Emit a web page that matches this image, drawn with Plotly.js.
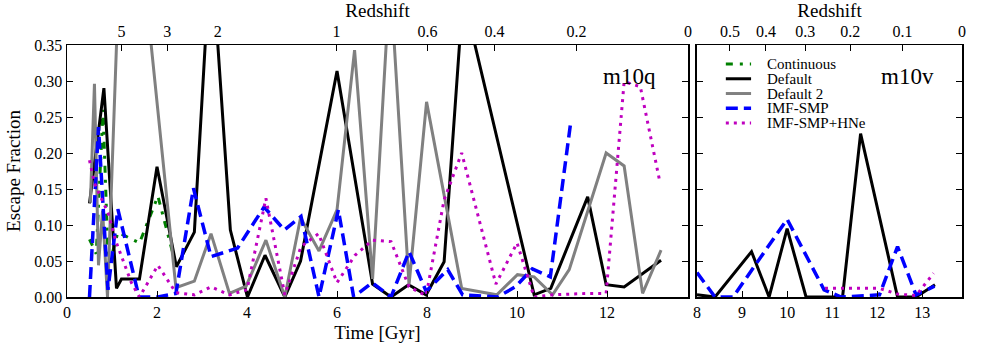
<!DOCTYPE html>
<html>
<head>
<meta charset="utf-8">
<script src="https://cdn.plot.ly/plotly-3.0.1.min.js"></script>
<style>
  body { margin: 0; background: white; }
  #chart { width: 981px; height: 350px; }
</style>
</head>
<body>
<div id="chart"></div>
<script>
// escape fraction vs cosmic time
// m10q (left panel)
var contTime = [0.5, 0.65, 0.8, 0.92, 1.13, 1.61, 2.02, 2.43];
var contEsc  = [0.08, 0.06, 0.26, 0.04, 0.09, 0.075, 0.14, 0.042];

var defTime = [0.5, 0.82, 1.1, 1.21, 1.61, 2.0, 2.43, 2.83, 3.2, 3.63, 4.01, 4.4, 4.84, 5.19, 6.0, 6.79, 7.2, 7.59, 7.98, 8.38, 8.8, 10.38, 10.75, 11.57, 11.98, 12.38, 13.2];
var defEsc  = [0.13, 0.29, 0.012, 0.025, 0.025, 0.181, 0.042, 0.09, 0.49, 0.093, 0.0, 0.058, 0.0, 0.05, 0.314, 0.018, 0.0, 0.017, 0.003, 0.049, 0.42, 0.003, 0.012, 0.139, 0.017, 0.014, 0.051];

var def2Time = [0.52, 0.61, 0.70, 0.79, 0.9, 1.3, 2.42, 2.83, 3.2, 3.61, 3.98, 4.42, 4.84, 5.19, 5.6, 6.0, 6.39, 6.79, 7.18, 7.6, 7.99, 8.77, 9.55, 10.01, 10.38, 10.79, 11.16, 11.98, 12.38, 12.79, 13.2];
var def2Esc  = [0.131, 0.296, 0.044, 0.12, 0.0, 0.70, 0.013, 0.022, 0.088, 0.005, 0.015, 0.079, 0.0, 0.11, 0.064, 0.121, 0.343, 0.025, 0.445, 0.017, 0.271, 0.012, 0.003, 0.031, 0.028, 0.003, 0.038, 0.2, 0.182, 0.005, 0.065];

var smpTime = [0.5, 0.7, 0.91, 1.13, 1.6, 2.02, 2.42, 2.81, 3.2, 3.79, 4.38, 4.83, 5.2, 5.6, 6.03, 6.37, 6.78, 7.2, 7.6, 7.98, 8.46, 8.79, 9.57, 9.96, 10.34, 10.74, 11.2];
var smpEsc  = [0.0, 0.236, 0.01, 0.122, 0.0, 0.0, 0.005, 0.151, 0.056, 0.068, 0.125, 0.093, 0.112, 0.0, 0.121, 0.0, 0.02, 0.0, 0.063, 0.008, 0.038, 0.003, 0.0, 0.014, 0.039, 0.028, 0.246];

var hneTime = [0.5, 0.61, 0.91, 1.1, 1.43, 1.61, 2.02, 2.42, 2.83, 3.2, 3.61, 4.0, 4.42, 4.84, 5.2, 5.59, 6.0, 6.4, 6.79, 7.2, 7.6, 7.98, 8.38, 8.77, 9.53, 10.0, 10.38, 10.79, 11.18, 11.57, 11.98, 12.38, 12.74, 13.18];
var hneEsc  = [0.19, 0.158, 0.117, 0.075, 0.02, 0.0, 0.044, 0.006, 0.003, 0.014, 0.003, 0.01, 0.137, 0.003, 0.07, 0.088, 0.02, 0.058, 0.079, 0.077, 0.014, 0.002, 0.135, 0.2, 0.018, 0.075, 0.0, 0.003, 0.004, 0.005, 0.005, 0.299, 0.292, 0.158];

// m10v (right panel)
var defTimeV = [8.0, 8.4, 9.21, 9.6, 10.0, 10.42, 11.23, 11.63, 12.45, 12.86, 13.28];
var defEscV  = [0.003, 0.0, 0.063, 0.0, 0.095, 0.0, 0.0, 0.227, 0.0, 0.0, 0.017];
var smpTimeV = [8.0, 8.4, 8.8, 10.0, 10.82, 11.2, 12.05, 12.45, 12.86, 13.27];
var smpEscV  = [0.034, 0.0, 0.0, 0.108, 0.01, 0.0, 0.003, 0.07, 0.003, 0.015];
var hneTimeV = [10.84, 12.05, 12.45, 12.86, 13.25];
var hneEscV  = [0.012, 0.012, 0.004, 0.002, 0.033];

// redshift ticks on the top axes (placed at the matching time in Gyr)
var redshiftLabels  = ['5', '3', '2', '1', '0.6', '0.4', '0.2', '0'];
var redshiftTimes   = [1.21, 2.23, 3.35, 5.99, 8.01, 9.5, 11.32, 13.8];
var redshiftLabelsV = ['0.5', '0.4', '0.3', '0.2', '0.1', '0'];
var redshiftTimesV  = [8.73, 9.53, 10.4, 11.4, 12.56, 13.88];

var seriesNames = ['Continuous', 'Default', 'Default 2', 'IMF-SMP', 'IMF-SMP+HNe'];
var panelNames  = ['m10q', 'm10v'];

// line styles, same order as seriesNames
var styles = [
  {color: '#008000', width: 3, dash: '7px,7px,3px,7px'},
  {color: '#000000', width: 3, dash: 'solid'},
  {color: '#808080', width: 3, dash: 'solid'},
  {color: '#0000ff', width: 3.5, dash: '12px,6px'},
  {color: '#bf00bf', width: 3, dash: '3px,5px'}
];

function line(x, y, i, xa, ya) {
  return {
    x: x, y: y, type: 'scatter', mode: 'lines', name: seriesNames[i],
    xaxis: xa, yaxis: ya, line: styles[i], hoverinfo: 'skip', showlegend: false
  };
}

// empty traces so plotly builds the redshift (top) axes
function topAxis(ticks, xa, ya) {
  return {
    x: ticks, y: ticks.map(function () { return null; }), type: 'scatter', mode: 'lines',
    xaxis: xa, yaxis: ya, hoverinfo: 'skip', showlegend: false
  };
}

var data = [
  line(contTime, contEsc, 0, 'x', 'y'),
  line(defTime, defEsc, 1, 'x', 'y'),
  line(def2Time, def2Esc, 2, 'x', 'y'),
  line(smpTime, smpEsc, 3, 'x', 'y'),
  line(hneTime, hneEsc, 4, 'x', 'y'),
  line(defTimeV, defEscV, 1, 'x2', 'y2'),
  line(smpTimeV, smpEscV, 3, 'x2', 'y2'),
  line(hneTimeV, hneEscV, 4, 'x2', 'y2'),
  topAxis(redshiftTimes, 'x3', 'y'),
  topAxis(redshiftTimesV, 'x4', 'y2')
];

var serif = 'Liberation Serif, Times New Roman, serif';
var frame = {
  showline: true, linecolor: 'black', linewidth: 1.5, showgrid: false, zeroline: false,
  ticks: 'inside', ticklen: 6, tickwidth: 1, tickcolor: 'black'
};

// hand-made legend in the m10v panel (matplotlib spacing is tighter than plotly's)
var shapes = [], annotations = [];
seriesNames.forEach(function (name, i) {
  var yy = 0.3236 - i * 0.0205;
  shapes.push({type: 'line', xref: 'x2', yref: 'y2', x0: 8.64, x1: 9.2, y0: yy, y1: yy,
               line: {color: styles[i].color, width: styles[i].width, dash: styles[i].dash}});
  annotations.push({xref: 'x2', yref: 'y2', x: 9.53, y: yy, text: name, showarrow: false,
                    xanchor: 'left', yanchor: 'middle', borderpad: 0, font: {size: 15}});
});
annotations.push({xref: 'x', yref: 'y', x: 13.14, y: 0.306, text: panelNames[0], showarrow: false,
                  xanchor: 'right', yanchor: 'middle', font: {size: 23}});
annotations.push({xref: 'x2', yref: 'y2', x: 12.04, y: 0.306, text: panelNames[1], showarrow: false,
                  xanchor: 'left', yanchor: 'middle', font: {size: 23}});

var layout = {
  width: 981, height: 350,
  margin: {l: 67, r: 19, t: 45, b: 53},
  paper_bgcolor: 'white', plot_bgcolor: 'white',
  font: {family: serif, size: 16, color: 'black'},
  showlegend: false,
  xaxis: Object.assign({}, frame, {
    domain: [0, 0.6939], range: [0, 13.8], tick0: 0, dtick: 2, anchor: 'y',
    title: {text: 'Time [Gyr]', standoff: 6}
  }),
  yaxis: Object.assign({}, frame, {
    domain: [0, 1], range: [0, 0.35], dtick: 0.05, tickformat: '.2f', anchor: 'x', mirror: 'ticks',
    title: {text: 'Escape Fraction', standoff: 8}
  }),
  xaxis2: Object.assign({}, frame, {
    domain: [0.7039, 1], range: [8, 13.88], tick0: 8, dtick: 1, anchor: 'y2'
  }),
  yaxis2: Object.assign({}, frame, {
    domain: [0, 1], range: [0, 0.35], dtick: 0.05, anchor: 'x2', mirror: 'ticks', showticklabels: false
  }),
  xaxis3: Object.assign({}, frame, {
    overlaying: 'x', side: 'top', anchor: 'y', range: [0, 13.8],
    tickmode: 'array', tickvals: redshiftTimes, ticktext: redshiftLabels,
    title: {text: 'Redshift', standoff: 4}
  }),
  xaxis4: Object.assign({}, frame, {
    overlaying: 'x2', side: 'top', anchor: 'y2', range: [8, 13.88],
    tickmode: 'array', tickvals: redshiftTimesV, ticktext: redshiftLabelsV,
    title: {text: 'Redshift', standoff: 4}
  }),
  shapes: shapes,
  annotations: annotations
};

Plotly.newPlot('chart', data, layout, {staticPlot: true});
</script>
</body>
</html>
